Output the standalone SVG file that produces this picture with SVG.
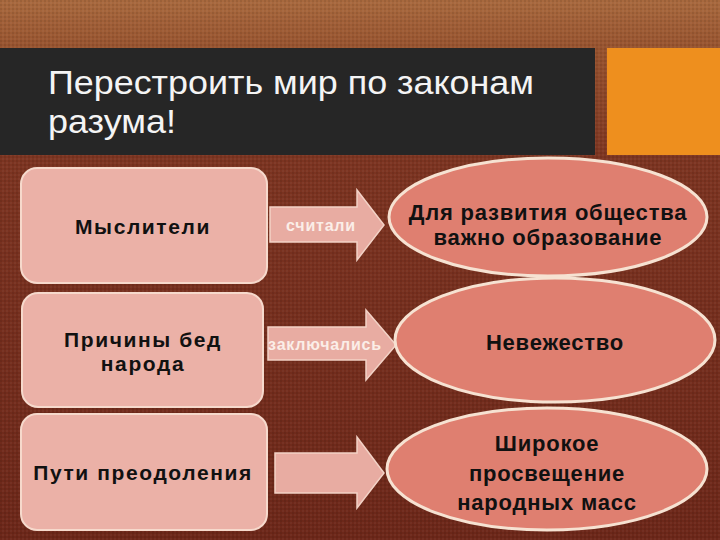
<svg xmlns="http://www.w3.org/2000/svg" width="720" height="540" viewBox="0 0 720 540">
<defs>
<linearGradient id="bg" x1="0" y1="0" x2="0" y2="1">
<stop offset="0" stop-color="#a8693e"/>
<stop offset="0.09" stop-color="#97532f"/>
<stop offset="0.3" stop-color="#7c3421"/>
<stop offset="1" stop-color="#6c2719"/>
</linearGradient>
<pattern id="tex" width="4" height="4" patternUnits="userSpaceOnUse">
<rect x="0" y="0" width="2" height="2" fill="#000" opacity="0.08"/>
<rect x="2" y="2" width="2" height="2" fill="#fff" opacity="0.04"/>
</pattern>
<style>
.box{fill:#ebb1a7;stroke:#f6d9cc;stroke-width:2}
.arr{fill:#e8aca2;stroke:#f3d2c6;stroke-width:1.5}
.ell{fill:#df7f70;stroke:#f6e2d2;stroke-width:3}
.bt{font-family:"Liberation Sans",Arial,sans-serif;font-weight:bold;font-size:21px;fill:#111;text-anchor:middle;letter-spacing:1.6px}
.et{font-family:"Liberation Sans",Arial,sans-serif;font-weight:bold;font-size:22px;fill:#111;text-anchor:middle;letter-spacing:0.8px}
.at{font-family:"Liberation Sans",Arial,sans-serif;font-weight:bold;font-size:16px;fill:#fbeee8;text-anchor:middle;letter-spacing:0.8px}
.tt{font-family:"Liberation Sans",Arial,sans-serif;font-size:34px;fill:#f4f4f4}
</style>
</defs>
<rect width="720" height="540" fill="url(#bg)"/>
<rect width="720" height="540" fill="url(#tex)"/>
<g id="title">
<rect x="0" y="48" width="595" height="107" fill="#262626"/>
<rect x="607" y="48" width="113" height="107" fill="#ee8f1e"/>
<text class="tt" x="48" y="94" textLength="486" lengthAdjust="spacingAndGlyphs">Перестроить мир по законам</text>
<text class="tt" x="48" y="133" textLength="128" lengthAdjust="spacingAndGlyphs">разума!</text>
</g>
<g id="connectors">
<g id="arrow1">
<path class="arr" d="M270,207 H357 V190 L384,225 L357,260 V242 H270 Z"/>
<text class="at" x="321" y="231">считали</text>
</g>
<g id="arrow2">
<path class="arr" d="M268,327 H366 V310 L396,345 L366,380 V360 H268 Z"/>
<text class="at" x="325" y="350">заключались</text>
</g>
<g id="arrow3">
<path class="arr" d="M275,453 H357 V437 L384,473 L357,508 V493 H275 Z"/>
</g>
</g>
<g id="box1">
<rect class="box" x="21" y="168" width="246" height="115" rx="16"/>
<text class="bt" x="143" y="234">Мыслители</text>
</g>
<g id="box2">
<rect class="box" x="22" y="293" width="241" height="114" rx="16"/>
<text class="bt" x="143" y="347">Причины бед</text>
<text class="bt" x="143" y="371">народа</text>
</g>
<g id="box3">
<rect class="box" x="21" y="414" width="246" height="116" rx="16"/>
<text class="bt" x="143" y="480">Пути преодоления</text>
</g>
<g id="ell1">
<ellipse class="ell" cx="548" cy="217" rx="159" ry="59"/>
<text class="et" x="548" y="220">Для развития общества</text>
<text class="et" x="548" y="245">важно образование</text>
</g>
<g id="ell2">
<ellipse class="ell" cx="555" cy="340" rx="160" ry="62"/>
<text class="et" x="555" y="350">Невежество</text>
</g>
<g id="ell3">
<ellipse class="ell" cx="547" cy="469" rx="160" ry="61"/>
<text class="et" x="547" y="451">Широкое</text>
<text class="et" x="547" y="481">просвещение</text>
<text class="et" x="547" y="510">народных масс</text>
</g>
</svg>
